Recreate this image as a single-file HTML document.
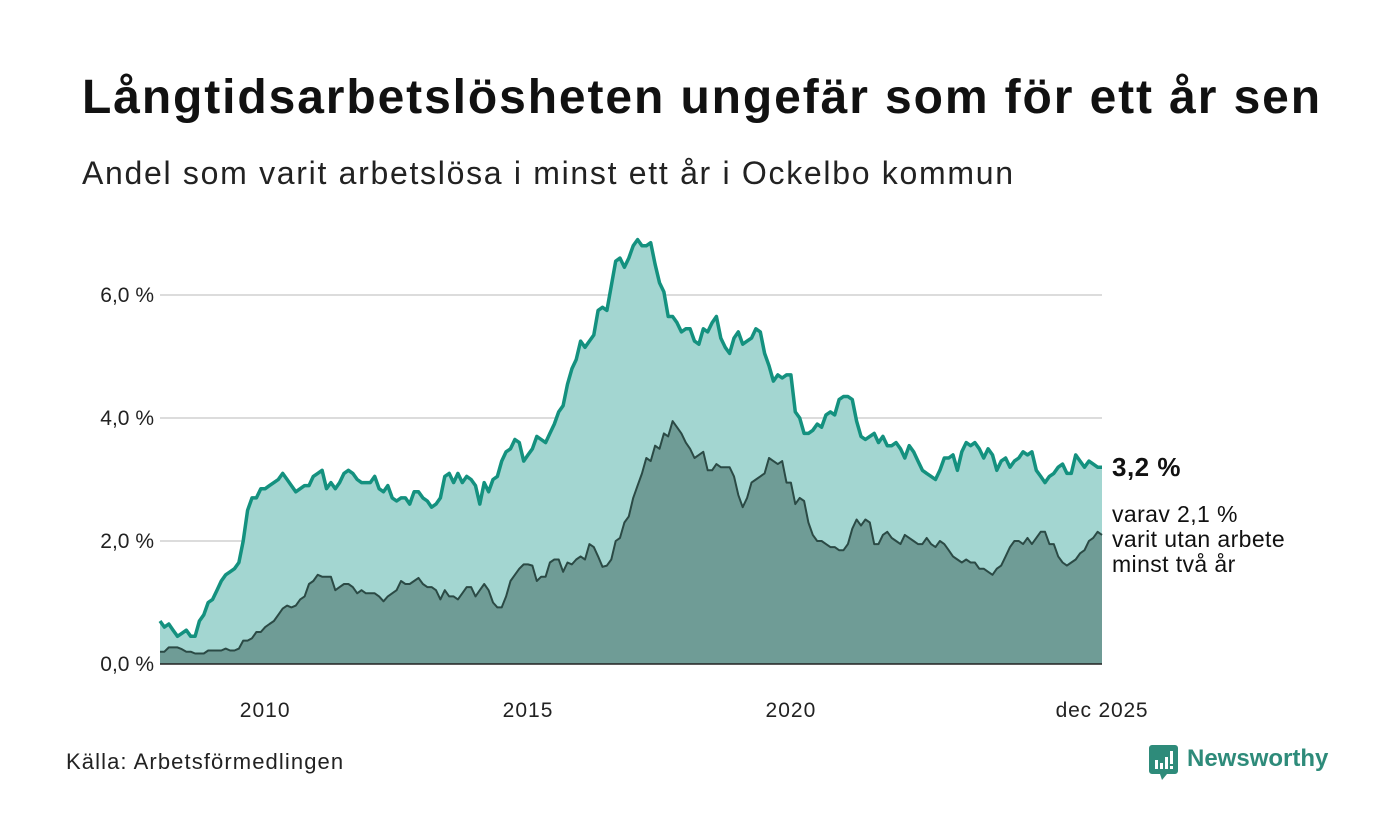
<!DOCTYPE html>
<html><head><meta charset="utf-8"><style>
body{margin:0;background:#fff;font-family:"Liberation Sans","DejaVu Sans",sans-serif;}
#wrap{position:relative;width:1400px;height:840px;overflow:hidden;}
.t{position:absolute;white-space:nowrap;color:#111;}
</style></head><body>
<div id="wrap">
<div class="t" style="left:82px;top:70px;font-size:48px;font-weight:bold;letter-spacing:1.9px">Långtidsarbetslösheten ungefär som för ett år sen</div>
<div class="t" style="left:82px;top:155px;font-size:32px;letter-spacing:1.7px;color:#222">Andel som varit arbetslösa i minst ett år i Ockelbo kommun</div>
<svg id="chart" width="1400" height="840" style="position:absolute;left:0;top:0"></svg>
<div class="t" style="left:66px;top:749px;font-size:22px;letter-spacing:1.1px;color:#222">Källa: Arbetsförmedlingen</div>
<div style="position:absolute;left:1149px;top:745px;">
<svg width="30" height="36" style="position:absolute;left:0;top:0"><path d="M2 0h24a3 3 0 0 1 3 3v23a3 3 0 0 1-3 3H18l-5 6-2-6H3a3 3 0 0 1-3-3V3a3 3 0 0 1 3-3z" fill="#2e8b7a"/><rect x="6" y="15" width="3" height="9" fill="#fff"/><rect x="11" y="18" width="3" height="6" fill="#fff"/><rect x="16" y="12" width="3" height="12" fill="#fff"/><rect x="21" y="6" width="3" height="13" fill="#fff"/><rect x="21" y="21" width="3" height="3" fill="#fff"/></svg>
<div class="t" style="left:38px;top:0px;font-size:24px;font-weight:bold;color:#2e8b7a">Newsworthy</div>
</div>
</div>
<script>
const total2008_2025 = [
0.7,0.6,0.65,0.55,0.45,0.5,0.55,0.45,0.45,0.7,0.8,1.0,
1.05,1.2,1.35,1.45,1.5,1.55,1.65,2.0,2.5,2.7,2.7,2.85,
2.85,2.9,2.95,3.0,3.1,3.0,2.9,2.8,2.85,2.9,2.9,3.05,
3.1,3.15,2.85,2.95,2.85,2.95,3.1,3.15,3.1,3.0,2.95,2.95,
2.95,3.05,2.85,2.8,2.9,2.7,2.65,2.7,2.7,2.6,2.8,2.8,
2.7,2.65,2.55,2.6,2.7,3.05,3.1,2.95,3.1,2.95,3.05,3.0,
2.9,2.6,2.95,2.8,3.0,3.05,3.3,3.45,3.5,3.65,3.6,3.3,
3.4,3.5,3.7,3.65,3.6,3.75,3.9,4.1,4.2,4.55,4.8,4.95,
5.25,5.15,5.25,5.35,5.75,5.8,5.75,6.15,6.55,6.6,6.45,6.6,
6.8,6.9,6.8,6.8,6.85,6.5,6.2,6.05,5.65,5.65,5.55,5.4,
5.45,5.45,5.25,5.2,5.45,5.4,5.55,5.65,5.3,5.15,5.05,5.3,
5.4,5.2,5.25,5.3,5.45,5.4,5.05,4.85,4.6,4.7,4.65,4.7,
4.7,4.1,4.0,3.75,3.75,3.8,3.9,3.85,4.05,4.1,4.05,4.3,
4.35,4.35,4.3,3.95,3.7,3.65,3.7,3.75,3.6,3.7,3.55,3.55,
3.6,3.5,3.35,3.55,3.45,3.3,3.15,3.1,3.05,3.0,3.15,3.35,
3.35,3.4,3.15,3.45,3.6,3.55,3.6,3.5,3.35,3.5,3.4,3.15,
3.3,3.35,3.2,3.3,3.35,3.45,3.4,3.45,3.15,3.05,2.95,3.05,
3.1,3.2,3.25,3.1,3.1,3.4,3.3,3.2,3.3,3.25,3.2,3.2];
const longterm2008_2025 = [
0.2,0.2,0.27,0.27,0.27,0.24,0.2,0.2,0.17,0.17,0.17,0.22,
0.22,0.22,0.22,0.25,0.22,0.22,0.25,0.38,0.38,0.42,0.52,0.52,
0.6,0.65,0.7,0.8,0.9,0.95,0.92,0.95,1.05,1.1,1.3,1.35,
1.45,1.42,1.42,1.42,1.2,1.25,1.3,1.3,1.25,1.15,1.2,1.15,
1.15,1.15,1.1,1.02,1.1,1.15,1.2,1.35,1.3,1.3,1.35,1.4,
1.3,1.25,1.25,1.2,1.05,1.2,1.1,1.1,1.05,1.15,1.25,1.25,
1.1,1.2,1.3,1.2,1.0,0.92,0.92,1.1,1.35,1.45,1.55,1.62,
1.62,1.6,1.35,1.42,1.42,1.65,1.7,1.7,1.5,1.65,1.62,1.7,
1.75,1.7,1.95,1.9,1.75,1.58,1.6,1.7,2.0,2.05,2.3,2.4,
2.7,2.9,3.1,3.35,3.3,3.55,3.5,3.75,3.7,3.95,3.85,3.75,
3.6,3.5,3.35,3.4,3.45,3.15,3.15,3.25,3.2,3.2,3.2,3.05,
2.75,2.55,2.7,2.95,3.0,3.05,3.1,3.35,3.3,3.25,3.3,2.95,
2.95,2.6,2.7,2.65,2.3,2.1,2.0,2.0,1.95,1.9,1.9,1.85,
1.85,1.95,2.2,2.35,2.25,2.35,2.3,1.95,1.95,2.1,2.15,2.05,
2.0,1.95,2.1,2.05,2.0,1.95,1.95,2.05,1.95,1.9,2.0,1.95,
1.85,1.75,1.7,1.65,1.7,1.65,1.65,1.55,1.55,1.5,1.45,1.55,
1.6,1.75,1.9,2.0,2.0,1.95,2.05,1.95,2.05,2.15,2.15,1.95,
1.95,1.75,1.65,1.6,1.65,1.7,1.8,1.85,2.0,2.05,2.15,2.1];
const yTicks = [0,2,4,6];
const yTickLabels = ["0,0 %","2,0 %","4,0 %","6,0 %"];
const xTickYears = [2010,2015,2020];
const xTickLabels = ["2010","2015","2020"];
const lastLabel = "dec 2025";

const NS="http://www.w3.org/2000/svg";
const svg=document.getElementById('chart');
const X0=160,X1=1102,Y0=664,PPU=61.5;
const n=total2008_2025.length;
const xIdx=i=>X0+(X1-X0)*i/(n-1);
const xYear=y=>xIdx((y-2008)*12);
const yv=v=>Y0-v*PPU;
function mk(tag,attrs){const e=document.createElementNS(NS,tag);for(const k in attrs)e.setAttribute(k,attrs[k]);svg.appendChild(e);return e;}

yTicks.forEach((t,i)=>{
  if(t>0){const g=mk('line',{x1:X0,x2:X1,y1:yv(t),y2:yv(t),stroke:'#dcdcdc','stroke-width':2});
  
  }
  const l=mk('text',{x:X0-6,y:yv(t)+7,'text-anchor':'end','font-size':21,fill:'#222','font-family':'Liberation Sans, sans-serif'});
  l.textContent=yTickLabels[i];
  
  
});
function areaPath(arr){let d='M'+xIdx(0)+','+Y0;arr.forEach((v,i)=>{d+='L'+xIdx(i).toFixed(1)+','+yv(v).toFixed(1);});return d+'L'+xIdx(arr.length-1)+','+Y0+'Z';}
function linePath(arr){return arr.map((v,i)=>(i?'L':'M')+xIdx(i).toFixed(1)+','+yv(v).toFixed(1)).join('');}
const a1=mk('path',{d:areaPath(total2008_2025),fill:'#a3d6d1'});


const a2=mk('path',{d:areaPath(longterm2008_2025),fill:'#6f9c96'});


const l2=mk('path',{d:linePath(longterm2008_2025),fill:'none',stroke:'#2b4a45','stroke-width':2,'stroke-linejoin':'round'});


const l1=mk('path',{d:linePath(total2008_2025),fill:'none',stroke:'#14917f','stroke-width':3.5,'stroke-linejoin':'round'});


const ax=mk('line',{x1:X0,x2:X1,y1:Y0,y2:Y0,stroke:'#222','stroke-width':1.5});


xTickYears.forEach((yr,i)=>{
  const t=mk('text',{x:xYear(yr),y:717,'text-anchor':'middle','font-size':21,'letter-spacing':1,fill:'#222','font-family':'Liberation Sans, sans-serif'});
  t.textContent=xTickLabels[i];
  
  
});
const lt=mk('text',{x:X1,y:717,'text-anchor':'middle','font-size':21,'letter-spacing':0.8,fill:'#222','font-family':'Liberation Sans, sans-serif'});
lt.textContent=lastLabel;


const lastT=total2008_2025[n-1], lastL=longterm2008_2025[n-1];
const v1=mk('text',{x:1112,y:yv(lastT)+9,'font-size':26,'font-weight':'bold','letter-spacing':0.5,fill:'#111','font-family':'Liberation Sans, sans-serif'});
v1.textContent=lastT.toFixed(1).replace('.',',')+' %';


const lines=['varav '+lastL.toFixed(1).replace('.',',')+' %','varit utan arbete','minst två år'];
lines.forEach((s,i)=>{
  const t=mk('text',{x:1112,y:yv(lastL)-13+i*25,'font-size':23,'letter-spacing':0.4,fill:'#111','font-family':'Liberation Sans, sans-serif'});
  t.textContent=s;
  
  
});
</script>
</body></html>
